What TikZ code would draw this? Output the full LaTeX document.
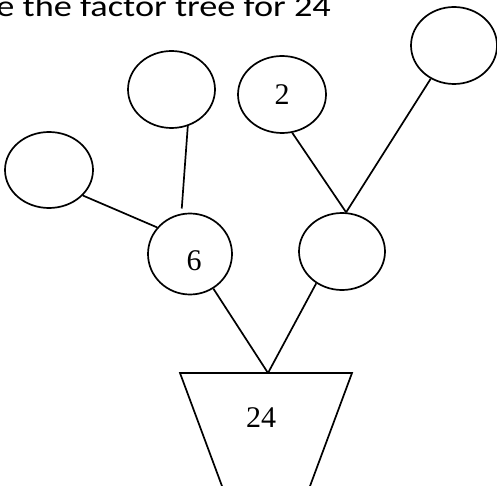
\documentclass[tikz,border=0pt]{standalone}
\usepackage{fontspec}
\setmainfont{Liberation Serif}
\newfontfamily\titlefont{Carlito}
\usetikzlibrary{shapes.geometric}
\tikzset{
  bubble/.style={draw, ellipse, line width=1.7pt, inner sep=0pt, font=\fontsize{30}{30}\selectfont},
  link/.style={line width=1.7pt},
}
\begin{document}
\begin{tikzpicture}[x=1pt,y=-1pt]
\useasboundingbox (0,0) rectangle (497,486);
\clip (0,0) rectangle (497,486);
% title
\node[anchor=base east, inner sep=0pt, font=\titlefont\fontsize{30}{30}\selectfont] (title) at (331,17) {\scalebox{1.21}[1]{e the factor tree for 24}};
% bubbles
\node[bubble, minimum width=87pt, minimum height=77pt] (A) at (171.5,89.5) {};
\node[bubble, minimum width=88pt, minimum height=76pt] (B) at (49,170) {};
\node[bubble, minimum width=84pt, minimum height=81pt,
      label={[font=\fontsize{30}{30}\selectfont, shift={(4,7)}]center:6}] (C) at (190,254) {};
\node[bubble, minimum width=88pt, minimum height=77pt] (D) at (282,94.5) {2};
\node[bubble, minimum width=86pt, minimum height=77pt] (E) at (454,45.5) {};
\node[bubble, minimum width=86pt, minimum height=77pt] (F) at (342,251.5) {};
% trapezoid
\coordinate (apex) at (268,373);
\coordinate (tl) at (180,373);
\coordinate (tr) at (352,373);
\coordinate (bl) at (232,513);
\coordinate (br) at (300,513);
\draw[link, line join=miter] (bl) -- (tl) -- (tr) -- (br);
\node[font=\fontsize{30}{30}\selectfont, inner sep=0pt] (T) at (261,418) {24};
% connectors
\draw[link] (B.323.7) -- (C.141.8);
\draw[link, shorten >=5pt] (A.294.4) -- (C.102.5);
\draw[link] (C.304.8) -- (apex);
\draw[link] (F.231.6) -- (apex);
\coordinate (Ftop) at (F.84);
\draw[link] (D.285) -- (Ftop);
\draw[link] (E.235.5) -- (Ftop);
\end{tikzpicture}
\end{document}
